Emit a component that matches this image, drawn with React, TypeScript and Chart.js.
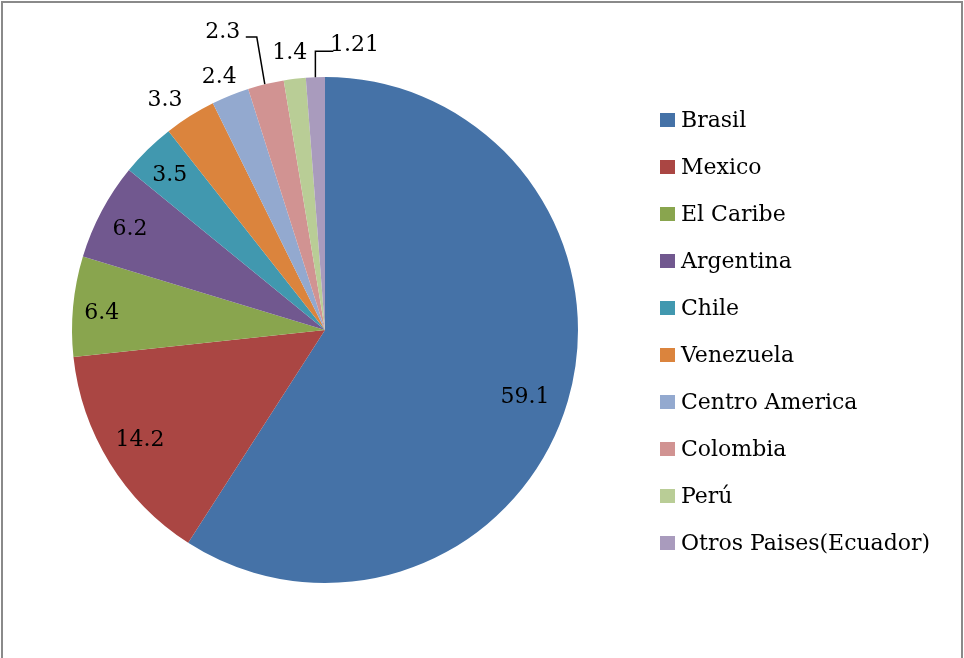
import React, { useEffect, useRef } from "react";
import { Chart, registerables } from "chart.js";

Chart.register(...registerables);

const categories = [
  "Brasil",
  "Mexico",
  "El Caribe",
  "Argentina",
  "Chile",
  "Venezuela",
  "Centro America",
  "Colombia",
  "Perú",
  "Otros Paises(Ecuador)",
];
const values = [59.1, 14.2, 6.4, 6.2, 3.5, 3.3, 2.4, 2.3, 1.4, 1.21];
const valueLabels = ["59.1", "14.2", "6.4", "6.2", "3.5", "3.3", "2.4", "2.3", "1.4", "1.21"];
const colors = [
  "#4572A7",
  "#AA4643",
  "#89A54E",
  "#71588F",
  "#4198AF",
  "#DB843D",
  "#93A9CF",
  "#D19392",
  "#B9CD96",
  "#A99BBD",
];

// label placement: point at radial fraction f of the slice's mid-angle, plus an offset
type Placement = { f: number; dx: number; dy: number; leader?: "left" | "right" };
const placements: Placement[] = [
  { f: 0.82, dx: 1, dy: 9 },
  { f: 0.85, dx: -2, dy: -3 },
  { f: 0.87, dx: -4, dy: 4 },
  { f: 0.86, dx: -3, dy: 2 },
  { f: 0.87, dx: -1, dy: 2 },
  { f: 1, dx: -25, dy: -16 },
  { f: 1, dx: -11, dy: -18 },
  { f: 1, dx: -43, dy: -52, leader: "left" },
  { f: 1, dx: -5, dy: -26 },
  { f: 1, dx: 39, dy: -32, leader: "right" },
];

const FONT = '22px "DejaVu Serif", serif';

const decorPlugin = {
  id: "decor",
  afterDatasetsDraw(chart: any) {
    const ctx = chart.ctx as CanvasRenderingContext2D;
    const meta = chart.getDatasetMeta(0);
    ctx.save();
    ctx.font = FONT;
    ctx.fillStyle = "#000";
    ctx.textAlign = "center";
    ctx.textBaseline = "middle";
    meta.data.forEach((arc: any, i: number) => {
      const { x, y, startAngle, endAngle, outerRadius } = arc.getProps(
        ["x", "y", "startAngle", "endAngle", "outerRadius"],
        true
      );
      const mid = (startAngle + endAngle) / 2;
      const p = placements[i];
      const ex = x + Math.cos(mid) * outerRadius * p.f;
      const ey = y + Math.sin(mid) * outerRadius * p.f;
      const lx = ex + p.dx;
      const ly = ey + p.dy;
      if (p.leader) {
        ctx.strokeStyle = "#000";
        ctx.lineWidth = 1.5;
        ctx.beginPath();
        if (p.leader === "left") {
          const ty = ly + 5;
          ctx.moveTo(ex - 1, ey);
          ctx.lineTo(ex - 9, ty);
          ctx.lineTo(ex - 20, ty);
        } else {
          const ty = ly + 6;
          ctx.moveTo(ex, ey);
          ctx.lineTo(ex, ty);
          ctx.lineTo(ex + 18, ty);
        }
        ctx.stroke();
      }
      ctx.fillText(valueLabels[i], lx, ly);
    });
    ctx.restore();
  },
  afterDraw(chart: any) {
    const ctx = chart.ctx as CanvasRenderingContext2D;
    ctx.save();
    // legend
    ctx.font = FONT;
    ctx.textAlign = "left";
    ctx.textBaseline = "middle";
    const lx = 660;
    const top = 120;
    const step = 47;
    categories.forEach((c, i) => {
      const cy = top + i * step;
      ctx.fillStyle = colors[i];
      ctx.fillRect(lx, cy - 7, 15, 14);
      ctx.fillStyle = "#000";
      ctx.fillText(c, lx + 21, cy + 1);
    });
    // outer border
    ctx.strokeStyle = "#8a8a8a";
    ctx.lineWidth = 2;
    ctx.strokeRect(2, 2, 960, 720);
    ctx.restore();
  },
};

export default function App() {
  const ref = useRef<HTMLCanvasElement | null>(null);
  useEffect(() => {
    if (!ref.current) return;
    const chart = new Chart(ref.current, {
      type: "pie",
      data: {
        labels: categories,
        datasets: [
          {
            data: values,
            backgroundColor: colors,
            borderWidth: 0,
          },
        ],
      },
      options: {
        animation: false,
        responsive: false,
        maintainAspectRatio: false,
        layout: { padding: { left: 72, right: 386, top: 77, bottom: 75 } },
        plugins: {
          legend: { display: false },
          tooltip: { enabled: false },
        },
      },
      plugins: [decorPlugin],
    });
    return () => chart.destroy();
  }, []);
  return (
    <div style={{ position: "fixed", left: 0, top: 0, width: 964, height: 658, background: "#fff" }}>
      <canvas ref={ref} width={964} height={658} style={{ display: "block" }} />
    </div>
  );
}
